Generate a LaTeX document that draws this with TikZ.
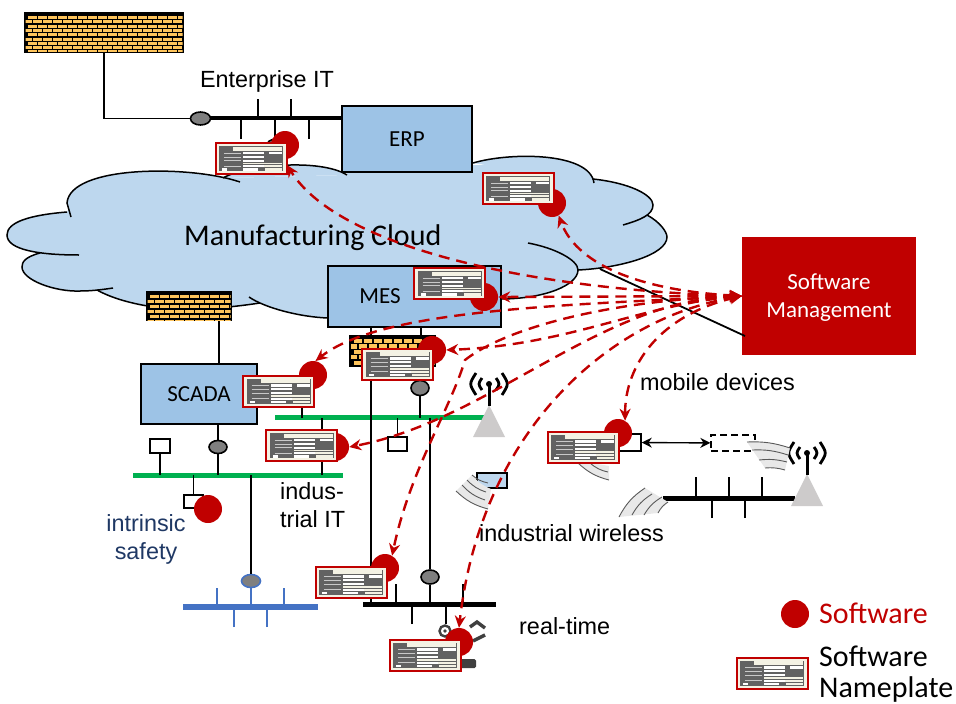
\documentclass[tikz,border=0pt]{standalone}
\usepackage{fontspec}
\setmainfont{Liberation Sans}
\newfontfamily\calibri{Carlito}
\usepackage{tikz}
\usetikzlibrary{arrows.meta}
\usetikzlibrary{shapes.geometric}

\definecolor{cloudBlue}{HTML}{BDD7EE}
\definecolor{boxBlue}{HTML}{9DC3E6}
\definecolor{swRed}{HTML}{C00000}
\definecolor{busGreen}{HTML}{00B050}
\definecolor{busBlue}{HTML}{4472C4}
\definecolor{ovalGray}{HTML}{7F7F7F}
\definecolor{brickOrange}{HTML}{FFC55C}
\definecolor{plateDark}{HTML}{626262}
\definecolor{plateCream}{HTML}{F4F2E4}
\definecolor{mastGray}{HTML}{CDCBCB}
\definecolor{waveGray}{HTML}{E8E8E8}
\definecolor{navyText}{HTML}{1F3864}

\tikzset{
  nameplate/.pic={
    \fill[plateCream] (-36,-15.5) rectangle (36,15.5);
    \fill[plateDark] (-32,-12.5) rectangle (32,12.5);
    \fill[plateCream] (-18,-12) rectangle (31,-7.7);
    \foreach \ya/\yb in {-6.7/-4.3,-2.7/-0.7,1/3.3,6.7/8.6,9.6/12}{
      \fill[white] (-8,\ya) rectangle (13,\yb);
    }
    \fill[white] (18,-6.7) rectangle (31,-4.3);
    \fill[plateCream] (-8,4.4) rectangle (31,5.8);
    \fill[plateCream] (13,6.7) rectangle (31,8.6);
    \fill[plateCream] (14,9.6) rectangle (31,12);
    \fill[plateDark] (7,9.6) rectangle (14,12);
    \fill[white] (-29,9.6) rectangle (-24,12);
    \foreach \yc in {-5.5,-1.7,2.2,7.6}{
      \draw[white!65!plateDark, line width=0.6pt] (-27,\yc) -- (-10,\yc);
    }
    \draw[swRed, line width=2pt] (-35.5,-15.5) rectangle (35.5,15.5);
  },
  antenna/.pic={
    \fill[mastGray] (0,21) -- (16,53) -- (-16,53) -- cycle;
    \draw[line width=3pt] (0,0) -- (0,22);
    \fill (0,0) circle (3);
    \draw[line width=2.8pt] (-7,-6) .. controls (-11,0) .. (-7,6);
    \draw[line width=2.8pt] (7,-6) .. controls (11,0) .. (7,6);
    \draw[line width=2.8pt] (-13,-11) .. controls (-20,0) .. (-13,11);
    \draw[line width=2.8pt] (13,-11) .. controls (20,0) .. (13,11);
  }
}

\newcommand{\brickwall}[5]{
  \begin{scope}
    \clip (#1,#2) rectangle (#3,#4);
    \foreach \r in {0,...,8}{
      \foreach \c in {0,...,17}{
        \pgfmathsetmacro{\bx}{#1+2.5+\c*10-mod(\r,2)*5}
        \pgfmathsetmacro{\by}{#2+2.5+\r*#5}
        \fill[brickOrange] (\bx,\by) rectangle ++(8.8,#5-1.2);
      }
    }
  \end{scope}
}

\newcommand{\cloudlobes}{
  \path[cloudPart] (240,182) .. controls (190,165) and (70,165) .. (67,203) -- (71,217);
  \path[cloudPart] (67,212) .. controls (30,215) and (7,222) .. (7,235) .. controls (7,250) and (40,255) .. (79,255);
  \path[cloudPart] (40,253) .. controls (25,257) and (22,262) .. (22,267) .. controls (22,280) and (55,292) .. (80,291) .. controls (90,291) and (100,290) .. (113,288);
  \path[cloudPart] (97,290) .. controls (120,303) and (160,310) .. (189,309) .. controls (215,309) and (240,306) .. (260,303);
  \path[cloudPart] (249,297) .. controls (265,308) and (300,317) .. (328,318);
  \path[cloudPart] (223,178) .. controls (245,165) and (320,158) .. (347,175);
  \path[cloudPart] (473,163) .. controls (510,152) and (590,152) .. (594,183);
  \path[cloudPart] (593,179) .. controls (630,183) and (653,195) .. (653,205) .. controls (653,215) and (640,220) .. (623,225);
  \path[cloudPart] (647,215) .. controls (660,222) and (667,232) .. (667,237) .. controls (667,255) and (620,268) .. (578,270);
  \path[cloudPart] (528,243) .. controls (555,248) and (578,260) .. (578,270) .. controls (578,285) and (545,299) .. (500,299);
}

\begin{document}
\begin{tikzpicture}[x=1pt, y=-1pt, inner sep=0pt]
  \useasboundingbox (0,0) rectangle (956,704);

  \tikzstyle{wire}=[line width=1.8pt];
  \tikzstyle{myBox}=[draw, fill=boxBlue, line width=1.8pt, font=\calibri\fontsize{23}{27}\selectfont];
  \tikzstyle{myWall}=[draw, fill=black, line width=1.4pt];
  \tikzstyle{myOval}=[ellipse, draw, fill=ovalGray, line width=1.6pt, minimum width=19, minimum height=14];
  \tikzstyle{mySw}=[circle, fill=swRed, minimum size=28];
  \tikzstyle{mySmall}=[draw, fill=white, line width=1.6pt];
  \tikzstyle{myBus}=[fill=black, minimum height=5];
  \tikzstyle{myLabel}=[font=\fontsize{23.4}{27}\selectfont, anchor=base west];
  \tikzstyle{bigLabel}=[font=\calibri\fontsize{30}{35}\selectfont, anchor=base west];
  \tikzstyle{swLink}=[swRed, line width=2.4pt, dash pattern=on 11pt off 7pt, {Stealth[length=12pt,width=11pt]}-{Stealth[length=12pt,width=11pt]}];
  \tikzstyle{waveLine}=[draw=black!65, line width=0.9pt];

  % cloud
  \tikzset{cloudPart/.style={fill=cloudBlue}}
  \cloudlobes
  \fill[cloudBlue] (71,205) -- (240,182) -- (223,178) -- (347,175) -- (347,165) -- (473,165) -- (560,165) -- (590,178)
    -- (653,205) -- (647,215) -- (667,237) -- (578,270) -- (500,299) -- (328,318) -- (260,303) -- (189,309)
    -- (97,290) -- (40,270) -- (40,253) -- (20,235) -- (67,212) -- cycle;
  \tikzset{cloudPart/.style={draw, line width=1.5pt}}
  \cloudlobes
  \node[bigLabel] (cloudName) at (184,245) {Manufacturing Cloud};

  % software management
  \node[fill=swRed, minimum width=174, minimum height=118] (sm) at (829,296) {};
  \node[text=white, align=center, font=\calibri\fontsize{23}{28}\selectfont] (smName) at (829,298) {Software\\Management};
  \coordinate (cloudEdge) at (600,269);
  \coordinate (smEdge) at (745,336);
  \draw[wire] (cloudEdge) -- (smEdge);

  % enterprise IT
  \node[myWall, minimum width=158, minimum height=39] (wallTop) at (104,32.5) {};
  \brickwall{25.5}{13.5}{182.5}{51.5}{4.3}
  \node[myBus, minimum width=142, minimum height=4.5] (busEnt) at (271,118) {};
  \node[myOval, minimum width=20, minimum height=13] (ovEnt) at (200.5,118.5) {};
  \draw[wire] (wallTop.south) |- (ovEnt.west);
  \foreach \x in {258,291}{ \draw[wire] (\x,99) -- (\x,99 |- busEnt); }
  \foreach \x in {241,275,309}{ \draw[wire] (\x,139) -- (\x,139 |- busEnt); }
  \node[myOval] (ovErp) at (276,146) {};
  \node[myBox, minimum width=130, minimum height=66] (erp) at (407,139) {ERP};
  \node[font=\fontsize{23.4}{27}\selectfont, anchor=base] (nameEnt) at (267,87) {Enterprise IT};

  % MES and SCADA
  \node[myBox, minimum width=173, minimum height=61] (mes) at (414.5,296.5) {};
  \node[font=\calibri\fontsize{23}{27}\selectfont] (mesName) at (380,296) {MES};
  \node[myWall, minimum width=84, minimum height=29] (wallSc) at (189,306) {};
  \brickwall{147.5}{292}{230.5}{320}{5}
  \node[myBox, minimum width=116, minimum height=60] (scada) at (199,394) {SCADA};
  \coordinate (scTop) at (219,364);
  \draw[wire] (scTop |- wallSc.south) -- (scTop);
  \coordinate (mesL) at (371,327);
  \coordinate (mesR) at (421,327);
  \coordinate (scPlate) at (302,406);
  \coordinate (g1Drop) at (322,418);
  \coordinate (g1Far) at (430,418);

  % industrial IT buses
  \node[myBus, fill=busGreen, minimum width=209] (busG1) at (379.5,417.5) {};
  \node[myBus, fill=busGreen, minimum width=210] (busG2) at (238,475) {};
  \node[myBus, minimum width=133] (busRt) at (429.5,604) {};
  \draw[wire] (mesL) -- (mesL |- busRt);
  \node[myWall, minimum width=85, minimum height=30] (wallMes) at (392.5,351) {};
  \draw[wire] (mesR) -- (wallMes.north -| mesR);
  \brickwall{351}{336.5}{434.5}{365.5}{5.4}
  \node[myOval, minimum width=18, minimum height=15] (ovMes) at (420,388) {};
  \draw[wire] (mesR |- wallMes.south) -- (ovMes);
  \draw[wire] (ovMes) -- (ovMes |- busG1);
  \draw[wire] (scPlate) -- (scPlate |- busG1);
  \draw[wire] (g1Drop) -- (g1Drop |- busG2);
  \node[mySmall, minimum width=19, minimum height=14] (boxG1) at (397.5,444) {};
  \draw[wire] (boxG1) -- (boxG1 |- busG1);
  \node[myOval, minimum width=18, minimum height=14] (ovRt) at (430,577) {};
  \draw[wire] (g1Far) -- (ovRt);
  \draw[wire] (ovRt) -- (ovRt |- busRt);
  \pic (antG) at (489,384) {antenna};

  % SCADA bus
  \node[myOval, minimum width=18, minimum height=13] (ovSc) at (218,447) {};
  \draw[wire] (scada.south -| ovSc) -- (ovSc);
  \draw[wire] (ovSc) -- (ovSc |- busG2);
  \node[mySmall, minimum width=20, minimum height=14] (boxSc) at (160,446) {};
  \draw[wire] (boxSc) -- (boxSc |- busG2);
  \node[mySmall, minimum width=19, minimum height=13] (boxSafe) at (193.5,501.5) {};
  \draw[wire] (boxSafe |- busG2) -- (boxSafe);

  % field bus
  \node[myBus, fill=busBlue, minimum width=135, minimum height=5.5] (busBl) at (250.5,607) {};
  \node[myOval, draw=busBlue, minimum width=19, minimum height=13] (ovBl) at (251,581) {};
  \draw[wire] (ovBl |- busG2) -- (ovBl);
  \foreach \x in {217,251,284}{ \draw[wire, busBlue] (\x,587 |- ovBl.south) -- (\x,587 |- busBl); }
  \foreach \x in {234,267}{ \draw[wire, busBlue] (\x,627) -- (\x,627 |- busBl); }

  % real time bus
  \foreach \x in {396,463}{ \draw[wire] (\x,584) -- (\x,584 |- busRt); }
  \foreach \x in {412,446}{ \draw[wire] (\x,624) -- (\x,624 |- busRt); }
  \draw[black!75, line width=2.4pt] (445,631) circle (5.5);
  \fill[black!75] (445,631) circle (1.8);
  \draw[black!75, line width=3.4pt] (470,627) -- (477,622) -- (485,628);
  \draw[black!75, line width=3.4pt] (473,641) -- (485,635);
  \fill[black!75, rounded corners=1.5pt] (460,659) rectangle (476,668);

  % wireless
  \node[draw, fill=cloudBlue, line width=1.4pt, minimum width=30, minimum height=15] (devW) at (492,480.5) {};
  \node[mySmall, minimum width=31, minimum height=17] (boxMob) at (625.5,442.5) {};
  \node[draw, dash pattern=on 7pt off 4pt, line width=1.4pt, minimum width=44, minimum height=16] (boxDash) at (733,443) {};
  \draw[line width=1.4pt, {Stealth[length=10pt,width=10pt]}-{Stealth[length=10pt,width=10pt]}] (boxMob) -- (boxDash);
  \node[myBus, minimum width=132] (busWl) at (729,498) {};
  \foreach \x in {696,729,762}{ \draw[wire] (\x,477) -- (\x,477 |- busWl); }
  \foreach \x in {712,745}{ \draw[wire] (\x,518) -- (\x,518 |- busWl); }
  \pic (antW) at (807,453) {antenna};

  % radio waves
  \fill[waveGray] (456,491) to[bend right=14] (488,509) -- (491,489) to[bend left=14] (472,475) -- cycle;
  \foreach \xa/\ya/\xb/\yb in {472/475/488/483, 467/480/486/492, 462/485/485/500, 456/491/488/509}{
    \draw[waveLine] (\xa,\ya) to[bend right=14] (\xb,\yb);
  }
  \fill[waveGray] (578,463) to[bend right=14] (609,480) -- (609,466) -- (592,463) -- cycle;
  \foreach \xa/\ya/\xb/\yb in {578/463/609/480, 590/463/608/472}{
    \draw[waveLine] (\xa,\ya) to[bend right=14] (\xb,\yb);
  }
  \fill[waveGray] (747,442) to[bend left=10] (790,448) -- (785,470) to[bend right=10] (765,468) -- cycle;
  \foreach \xa/\ya/\xb/\yb in {747/442/790/448, 752/450/788/455, 759/460/787/462, 765/468/785/470}{
    \draw[waveLine] (\xa,\ya) to[bend left=10] (\xb,\yb);
  }
  \fill[waveGray] (619,517) to[bend left=14] (645,488) -- (668,502) to[bend right=14] (658,513) -- cycle;
  \foreach \xa/\ya/\xb/\yb in {619/517/645/488, 632/515/652/494, 644/515/662/497, 658/513/668/502}{
    \draw[waveLine] (\xa,\ya) to[bend left=14] (\xb,\yb);
  }

  % software and nameplates
  \node[mySw] (swErp) at (285,145) {};
  \node[mySw] (swCloud) at (552,203) {};
  \node[mySw] (swMes) at (484,297) {};
  \node[mySw] (swWall) at (432,350) {};
  \node[mySw] (swSc) at (313,375) {};
  \node[mySw] (swIt) at (335,447) {};
  \node[mySw] (swMob) at (618,433) {};
  \node[mySw] (swUp) at (385,568) {};
  \node[mySw] (swLow) at (459,642) {};
  \node[mySw] (swSafe) at (208,509) {};
  \node[mySw] (swKey) at (795,614) {};
  \pic (npErp) at (251,158.5) {nameplate};
  \pic (npCloud) at (518,188.5) {nameplate};
  \pic (npMes) at (449.5,283.5) {nameplate};
  \pic (npWall) at (397.5,364) {nameplate};
  \pic (npSc) at (278.5,391) {nameplate};
  \pic (npIt) at (301.5,445.5) {nameplate};
  \pic (npMob) at (583,447) {nameplate};
  \pic (npUp) at (351,582) {nameplate};
  \pic (npLow) at (425,655) {nameplate};
  \pic (npKey) at (772,673) {nameplate};

  % labels
  \node[myLabel] (nameMob) at (640,390) {mobile devices};
  \node[myLabel] (nameIt1) at (280,499) {indus-};
  \node[myLabel] (nameIt2) at (280,527) {trial IT};
  \node[myLabel, anchor=base, text=navyText] (nameSafe1) at (146,531) {intrinsic};
  \node[myLabel, anchor=base, text=navyText] (nameSafe2) at (146,559) {safety};
  \node[myLabel] (nameWl) at (479,541) {industrial wireless};
  \node[myLabel] (nameRt) at (519,634) {real-time};
  \node[bigLabel, text=swRed] (keySw) at (819,623) {Software};
  \node[bigLabel] (keyNp1) at (819,666) {Software};
  \node[bigLabel] (keyNp2) at (819,697) {Nameplate};

  % software links
  \draw[swLink] (sm.west) .. controls (540,290) and (340,250) .. (287,165);
  \draw[swLink] (sm.west) .. controls (630,290) and (575,260) .. (swCloud.-62);
  \draw[swLink] (sm.west) -- (swMes.east);
  \draw[swLink] (sm.west) .. controls (560,305) and (380,310) .. (swSc.80);
  \draw[swLink] (sm.west) .. controls (640,305) and (570,345) .. (swWall.east);
  \draw[swLink] (sm.west) .. controls (600,300) and (490,420) .. (swIt.east);
  \draw[swLink] (sm.west) .. controls (620,300) and (510,325) .. (465,360) .. controls (450,410) and (410,470) .. (swUp.60);
  \draw[swLink] (sm.west) .. controls (600,320) and (480,440) .. (swLow.north);
  \draw[swLink] (sm.west) .. controls (660,315) and (625,365) .. (swMob.60);
\end{tikzpicture}
\end{document}
